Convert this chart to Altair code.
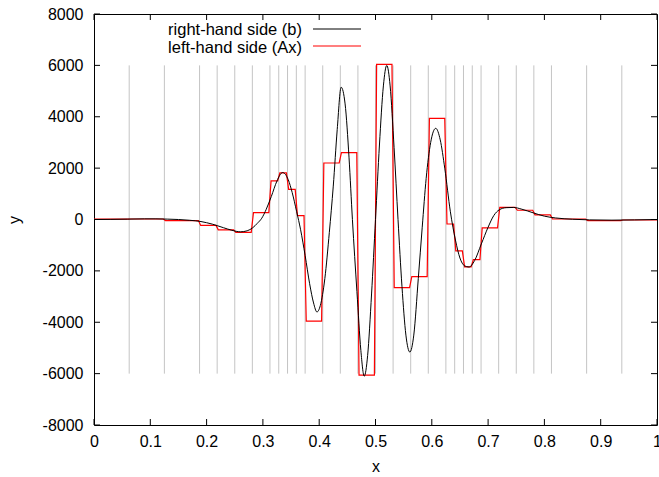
import altair as alt
import pandas as pd

# ---- data ----
# element boundaries (gray lines at interior boundaries)
bounds = [0, 0.0625, 0.125, 0.1875, 0.21875, 0.25, 0.28125, 0.3125, 0.328125,
          0.34375, 0.359375, 0.375, 0.40625, 0.4375, 0.46875, 0.5, 0.53125,
          0.5625, 0.59375, 0.625, 0.640625, 0.65625, 0.671875, 0.6875,
          0.71875, 0.75, 0.78125, 0.8125, 0.875, 0.9375, 1.0]
# left-hand side (Ax): one constant value per element
ax_values = [15, 20, -40, -230, -400, -500, 270, 1500, 1815, 1170, 150,
             -3960, 2200, 2600, -6060, 6040, -2650, -2220, 3935, -175,
             -1220, -1845, -1560, -325, 470, 360, 180, 20, -40, -20]
# right-hand side (b): points
b_x = [0.0, 0.03, 0.06, 0.09, 0.11, 0.13, 0.15, 0.17, 0.19, 0.21, 0.23, 0.245,
       0.26, 0.272, 0.282, 0.29, 0.298, 0.306, 0.315, 0.325, 0.335, 0.345,
       0.352, 0.36, 0.367, 0.375, 0.383, 0.39, 0.396, 0.402, 0.41, 0.418,
       0.425, 0.432, 0.439, 0.446, 0.453, 0.459, 0.467, 0.474, 0.480, 0.486,
       0.493, 0.500, 0.507, 0.514, 0.520, 0.526, 0.533, 0.540, 0.547, 0.554,
       0.561, 0.568, 0.576, 0.583, 0.590, 0.598, 0.607, 0.615, 0.623, 0.633,
       0.642, 0.650, 0.658, 0.666, 0.676, 0.688, 0.700, 0.710, 0.720, 0.732,
       0.745, 0.76, 0.78, 0.80, 0.82, 0.85, 0.88, 0.92, 0.96, 1.0]
b_y = [0, 5, 15, 25, 25, 15, 0, -30, -80, -180, -320, -420,
       -480, -440, -320, -150, 50, 400, 900, 1500, 1830, 1550,
       1050, 300, -400, -1400, -2500, -3250, -3600, -3350, -2300, -500,
       1300, 3500, 5150, 4500, 2400, 0, -2800, -5100, -6100, -5300,
       -2900, 0, 2900, 5200, 6000, 5200, 2800, 0, -2600, -4500,
       -5160, -4500, -2300, -300, 1600, 3000, 3550, 3100, 2000, 300,
       -800, -1500, -1800, -1850, -1600, -950, -300, 150, 380, 460,
       470, 400, 260, 130, 60, 10, -15, -25, -15, 0]
x_ticks = [0, 0.1, 0.2, 0.3, 0.4, 0.5, 0.6, 0.7, 0.8, 0.9, 1]
y_ticks = [-8000, -6000, -4000, -2000, 0, 2000, 4000, 6000, 8000]
legend_labels = ["right-hand side (b)", "left-hand side (Ax)"]

FONT = "Liberation Sans"
FS = 16
LFS = 16.5
W, H = 563, 411
GAP = 0.002

# ---- tables ----
b_df = pd.DataFrame({"x": b_x, "y": b_y, "o": range(len(b_x))})
rx, ry = [], []
for i, v in enumerate(ax_values):
    x0 = bounds[i] + (GAP if i > 0 else 0)
    x1 = bounds[i + 1] - (GAP if i < len(ax_values) - 1 else 0)
    rx += [x0, x1]
    ry += [v, v]
ax_df = pd.DataFrame({"x": rx, "y": ry, "o": range(len(rx))})
grid_df = pd.DataFrame({"x": bounds[1:-1], "y": -6000, "y2": 6000})
xt_df = pd.DataFrame({"x": x_ticks})
yt_df = pd.DataFrame({"y": y_ticks})

xs = alt.Scale(domain=[0, 1], nice=False, zero=False)
ys = alt.Scale(domain=[-8000, 8000], nice=False, zero=False)

x_axis = alt.Axis(values=x_ticks, labelExpr="toString(datum.value)", title="x",
                  grid=False, ticks=False, tickSize=0, domain=False,
                  labelFont=FONT, labelFontSize=FS, labelColor="black",
                  labelPadding=8, labelFlush=False, labelOverlap=False,
                  titleFont=FONT, titleFontSize=FS, titleFontWeight="normal",
                  titleColor="black", titleBaseline="middle", titleY=41)
y_axis = alt.Axis(values=y_ticks, labelExpr="toString(datum.value)", title="y",
                  grid=False, ticks=False, tickSize=0, domain=False,
                  labelFont=FONT, labelFontSize=FS, labelColor="black",
                  labelPadding=11, labelFlush=False, labelOverlap=False,
                  titleFont=FONT, titleFontSize=FS, titleFontWeight="normal",
                  titleColor="black", titleX=-80, titleY=H / 2,
                  titleBaseline="middle", titleAlign="center")

grid = alt.Chart(grid_df).mark_rule(color="#c4c4c4", strokeWidth=1).encode(
    x=alt.X("x:Q", scale=xs, axis=x_axis),
    y=alt.Y("y:Q", scale=ys, axis=y_axis),
    y2="y2:Q",
)

ax_line = alt.Chart(ax_df).mark_line(color="#ff0000", strokeWidth=1.2).encode(
    x=alt.X("x:Q", scale=xs), y=alt.Y("y:Q", scale=ys), order="o:Q")

b_line = alt.Chart(b_df).mark_line(color="black", strokeWidth=1,
                                   interpolate="monotone").encode(
    x=alt.X("x:Q", scale=xs), y=alt.Y("y:Q", scale=ys), order="o:Q")

TL = 6
tick_b = alt.Chart(xt_df).mark_rule(color="black").encode(
    x=alt.X("x:Q", scale=xs), y=alt.value(H), y2=alt.value(H - TL))
tick_t = alt.Chart(xt_df).mark_rule(color="black").encode(
    x=alt.X("x:Q", scale=xs), y=alt.value(0), y2=alt.value(TL))
tick_l = alt.Chart(yt_df).mark_rule(color="black").encode(
    y=alt.Y("y:Q", scale=ys), x=alt.value(0), x2=alt.value(TL))
tick_r = alt.Chart(yt_df).mark_rule(color="black").encode(
    y=alt.Y("y:Q", scale=ys), x=alt.value(W), x2=alt.value(W - TL))

leg_df0 = pd.DataFrame({"label": [legend_labels[0]]})
leg_df1 = pd.DataFrame({"label": [legend_labels[1]]})
leg_text0 = alt.Chart(leg_df0).mark_text(align="right", baseline="middle",
                                         font=FONT, fontSize=LFS, color="black").encode(
    text="label:N", x=alt.value(208), y=alt.value(15.5))
leg_text1 = alt.Chart(leg_df1).mark_text(align="right", baseline="middle",
                                         font=FONT, fontSize=LFS, color="black").encode(
    text="label:N", x=alt.value(208), y=alt.value(33.5))
leg_black = alt.Chart(leg_df0).mark_rule(color="black", strokeWidth=1).encode(
    x=alt.value(219), x2=alt.value(267), y=alt.value(15))
leg_red = alt.Chart(leg_df1).mark_rule(color="#ff0000", strokeWidth=1.2).encode(
    x=alt.value(219), x2=alt.value(267), y=alt.value(32))

chart = alt.layer(grid, ax_line, b_line, tick_b, tick_t, tick_l, tick_r,
                  leg_text0, leg_text1, leg_black, leg_red).properties(
    width=W, height=H,
    autosize=alt.AutoSizeParams(type="none"),
    padding={"left": 94, "top": 14, "right": 2, "bottom": 52},
    background="white",
).configure_view(stroke="black", strokeWidth=1)

chart.save("out.html", embed_options={"renderer": "svg", "actions": False})
